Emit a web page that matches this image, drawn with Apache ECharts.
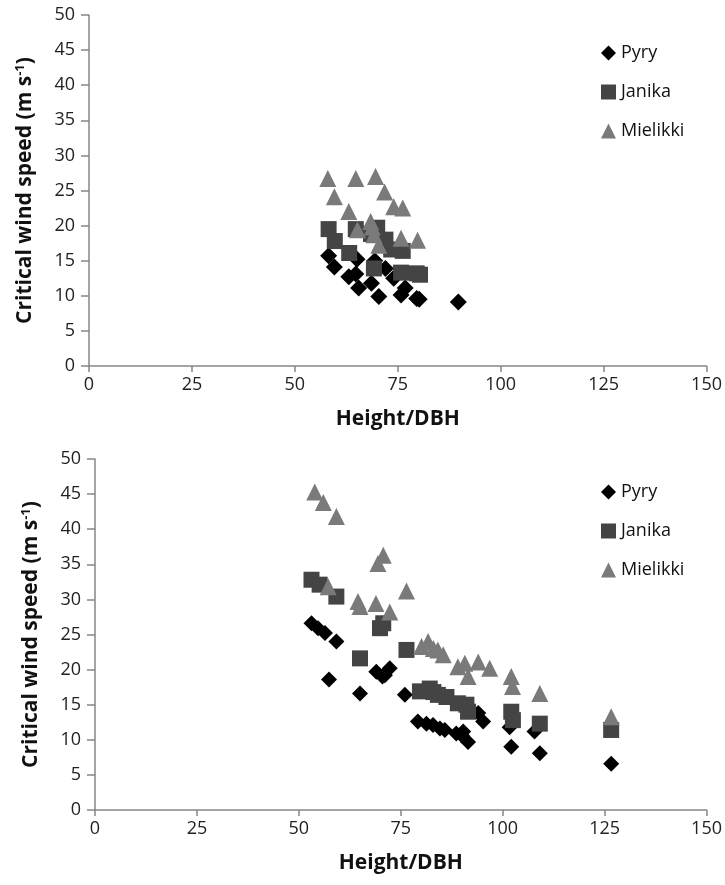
<!DOCTYPE html>
<html>
<head>
<meta charset="utf-8">
<script src="https://cdn.jsdelivr.net/npm/echarts@6/dist/echarts.min.js"></script>
<style>
  html, body { margin: 0; padding: 0; background: #fff; }
</style>
</head>
<body>
<div id="main" style="width: 725px;height:885px;"></div>
<script type="text/javascript">
    // 数据：上图
    var pyryTop = [[58.2,15.7],[59.6,14.1],[63.1,12.7],[65.1,15.2],[64.8,13.1],[65.5,11.1],[69.4,15.0],[68.6,11.8],
        [70.4,9.9],[72,13.9],[74,12.5],[75.8,10.1],[76.8,11.1],[79.6,9.6],[80.2,9.5],[89.7,9.1]];
    var janikaTop = [[58.2,19.5],[59.7,17.8],[63.2,16.1],[64.8,19.5],[70,19.7],[72,18.0],[73.4,16.6],[76.2,16.4],
        [69.2,13.9],[75.8,13.3],[79.6,13.2],[80.4,13.0],[68.5,18.8]];
    var mielikkiTop = [[58,26.7],[64.8,26.7],[69.6,27.0],[59.6,24.1],[71.8,24.8],[74,22.7],[76.2,22.5],[63.1,22.0],
        [68.4,20.6],[65.2,19.4],[69.2,18.7],[70.4,17.2],[75.8,18.2],[79.8,17.9],[68.8,19.8]];
    // 数据：下图
    var pyryBottom = [[53.1,26.6],[54.7,25.9],[56.4,25.2],[59.2,24.0],[57.4,18.6],[65,16.6],[69,19.7],[71.1,19.2],
        [72.3,20.2],[70.5,19.0],[76,16.4],[79.2,12.6],[81.3,12.3],[82.9,12.1],[84.6,11.6],[85.8,11.4],[88.6,10.9],
        [90.3,11.2],[90.0,10.6],[91.5,9.7],[94,13.8],[95.2,12.6],[101.7,11.8],[102.1,9.0],[107.8,11.2],[109.1,8.1],[126.6,6.6]];
    var janikaBottom = [[53.1,32.8],[55.1,32.1],[59.2,30.4],[69.9,25.9],[70.7,26.6],[65,21.6],[76.4,22.8],[79.7,16.9],
        [82.1,17.3],[83,16.8],[84.1,16.4],[86.2,16.1],[89,15.2],[91.1,15.0],[91.5,14.0],[102.1,14.0],[102.5,12.8],
        [109.1,12.3],[126.6,11.4]];
    var mielikkiBottom = [[53.9,45.3],[56,43.8],[59.2,41.8],[70.7,36.3],[69.4,35.1],[76.4,31.2],[57.2,31.8],[64.5,29.7],
        [65,29.0],[68.9,29.4],[72.3,28.2],[80.1,23.3],[81.7,24.0],[83,23.0],[84.1,22.8],[85.4,22.1],[89,20.4],[90.7,20.9],
        [91.5,19.0],[94,21.1],[96.8,20.2],[102.1,19.0],[102.4,17.6],[109.1,16.6],[126.6,13.3]];

    var seriesNames = ['Pyry', 'Janika', 'Mielikki'];

    var FONT = '"Open Sans", sans-serif';
    var colors = ['#000000', '#444444', '#7a7a7a'];
    var symbols = ['diamond', 'rect', 'triangle'];

    var myChart = echarts.init(document.getElementById('main'));

    function xAxis(idx) {
        return {
            type: 'value', gridIndex: idx, min: 0, max: 150, interval: 25,
            name: 'Height/DBH', nameLocation: 'middle', nameGap: 43,
            nameTextStyle: { fontFamily: FONT, fontWeight: 'bold', fontSize: 21, color: '#111' },
            axisLine: { lineStyle: { color: '#868686', width: 1.5 } },
            axisTick: { show: true, length: 6, lineStyle: { color: '#868686', width: 1.5 } },
            axisLabel: { fontFamily: FONT, fontSize: 18, color: '#222', margin: 10 },
            splitLine: { show: false }
        };
    }
    function yAxis(idx) {
        return {
            type: 'value', gridIndex: idx, min: 0, max: 50, interval: 5,
            name: '{a|Critical wind speed (m s}{b|-1}{a|)}', nameLocation: 'middle', nameGap: 52,
            nameTextStyle: {
                rich: {
                    a: { fontFamily: FONT, fontWeight: 'bold', fontSize: 21, color: '#111' },
                    b: { fontFamily: FONT, fontWeight: 'bold', fontSize: 13, color: '#111', verticalAlign: 'top', padding: [0, 0, 10, 0] }
                }
            },
            axisLine: { show: true, lineStyle: { color: '#868686', width: 1.5 } },
            axisTick: { show: true, length: 8, lineStyle: { color: '#868686', width: 1.5 } },
            axisLabel: { fontFamily: FONT, fontSize: 18, color: '#222', margin: 14 },
            splitLine: { show: false }
        };
    }

    function makeSeries(data, i, idx, size) {
        return {
            name: seriesNames[i], type: 'scatter', xAxisIndex: idx, yAxisIndex: idx,
            symbol: symbols[i], symbolSize: size,
            itemStyle: { color: colors[i], opacity: 1 },
            data: data
        };
    }

    function legend(top) {
        return {
            orient: 'vertical', left: 596, top: top, itemGap: 21,
            itemWidth: 15, itemHeight: 15,
            textStyle: { fontFamily: FONT, fontSize: 18, color: '#111' },
            data: seriesNames.map(function (n, i) {
                return { name: n, icon: symbols[i], itemStyle: { color: colors[i] } };
            })
        };
    }

    var option = {
        backgroundColor: '#fff',
        animation: false,
        grid: [
            { left: 89, right: 9, top: 15, height: 351 },
            { left: 95, right: 18, top: 459, height: 351 }
        ],
        legend: [legend(39), legend(478)],
        xAxis: [xAxis(0), xAxis(1)],
        yAxis: [yAxis(0), yAxis(1)],
        series: [
            makeSeries(pyryTop, 0, 0, 17),
            makeSeries(janikaTop, 1, 0, 16),
            makeSeries(mielikkiTop, 2, 0, 17),
            makeSeries(pyryBottom, 0, 1, 16),
            makeSeries(janikaBottom, 1, 1, 16),
            makeSeries(mielikkiBottom, 2, 1, 17)
        ]
    };
    myChart.setOption(option);
</script>
</body>
</html>
